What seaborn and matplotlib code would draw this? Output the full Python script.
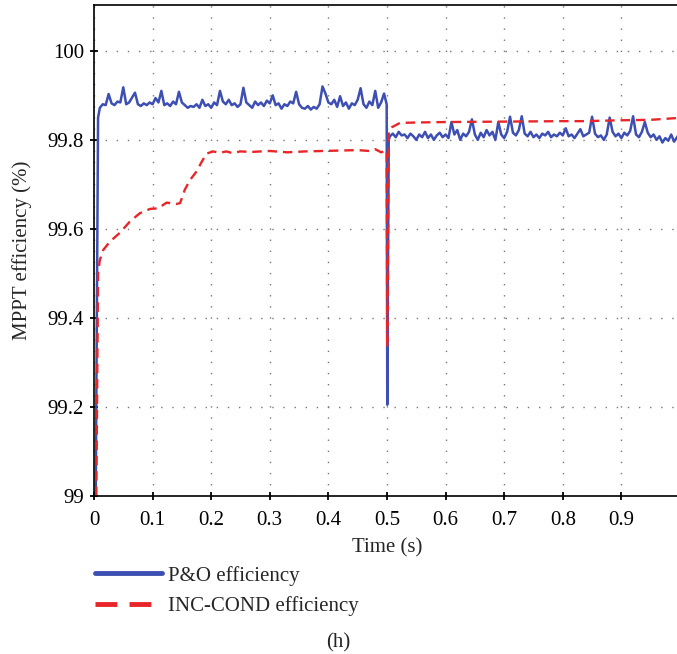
import numpy as np
import pandas as pd
import seaborn as sns
import matplotlib
matplotlib.use("Agg")
from matplotlib import pyplot as plt
from matplotlib.lines import Line2D
from matplotlib.ticker import FuncFormatter

# P&O efficiency (start, 0.005 s samples, dip at 0.5 s)
po_start_t = [0.0, 0.003, 0.007]
po_start_v = [99.0, 99.0, 99.85]
po_first_v = [
    99.872, 99.880, 99.878, 99.903, 99.882, 99.878, 99.886, 99.884, 99.918, 99.880,
    99.884, 99.895, 99.906, 99.880, 99.876, 99.882, 99.878, 99.884, 99.880, 99.894,
    99.884, 99.910, 99.878, 99.882, 99.876, 99.886, 99.880, 99.908, 99.884, 99.878,
    99.872, 99.876, 99.874, 99.880, 99.872, 99.890, 99.876, 99.880, 99.872, 99.884,
    99.878, 99.910, 99.886, 99.880, 99.890, 99.878, 99.882, 99.874, 99.880, 99.917,
    99.884, 99.878, 99.872, 99.886, 99.878, 99.884, 99.876, 99.888, 99.882, 99.900,
    99.878, 99.882, 99.870, 99.880, 99.876, 99.886, 99.882, 99.908, 99.880, 99.872,
    99.870, 99.876, 99.868, 99.874, 99.870, 99.880, 99.920, 99.904, 99.884, 99.880,
    99.890, 99.874, 99.898, 99.876, 99.884, 99.870, 99.882, 99.878, 99.890, 99.916,
    99.880, 99.872, 99.886, 99.878, 99.910, 99.872, 99.884, 99.904,
]
po_dip_t = [0.4995, 0.5005, 0.503]
po_dip_v = [99.88, 99.205, 99.80]
po_second_v = [
    99.808, 99.814, 99.806, 99.818, 99.810, 99.812, 99.804, 99.814, 99.808, 99.800,
    99.812, 99.806, 99.818, 99.804, 99.812, 99.800, 99.810, 99.816, 99.806, 99.812,
    99.804, 99.840, 99.812, 99.822, 99.800, 99.814, 99.808, 99.818, 99.846, 99.812,
    99.800, 99.816, 99.806, 99.822, 99.810, 99.818, 99.800, 99.840, 99.812, 99.804,
    99.818, 99.852, 99.816, 99.810, 99.822, 99.853, 99.814, 99.808, 99.818, 99.806,
    99.812, 99.804, 99.814, 99.810, 99.818, 99.806, 99.812, 99.808, 99.816, 99.810,
    99.826, 99.808, 99.812, 99.804, 99.814, 99.824, 99.808, 99.812, 99.816, 99.852,
    99.814, 99.806, 99.810, 99.800, 99.812, 99.850, 99.818, 99.808, 99.814, 99.804,
    99.816, 99.810, 99.820, 99.853, 99.812, 99.806, 99.818, 99.840, 99.816, 99.806,
    99.812, 99.800, 99.808, 99.794, 99.804, 99.798, 99.812, 99.796, 99.806, 99.816,
]

# INC-COND efficiency
inc_t = [0.004, 0.007, 0.010, 0.016, 0.027, 0.044, 0.061, 0.078, 0.096, 0.109,
         0.124, 0.141, 0.147, 0.155, 0.164, 0.175, 0.184, 0.192, 0.203, 0.215,
         0.226, 0.237, 0.249, 0.27, 0.30, 0.33, 0.36, 0.39, 0.42, 0.45,
         0.47, 0.48, 0.49, 0.4995, 0.5005, 0.503, 0.508, 0.522, 0.55, 0.60,
         0.70, 0.80, 0.835, 0.90, 0.95, 0.995, 1.0]
inc_v = [99.0, 99.5, 99.53, 99.553, 99.571, 99.591, 99.616, 99.635, 99.645, 99.646,
         99.659, 99.656, 99.658, 99.688, 99.71, 99.729, 99.751, 99.769, 99.774, 99.771,
         99.774, 99.77, 99.774, 99.773, 99.775, 99.772, 99.774, 99.775, 99.776, 99.777,
         99.775, 99.779, 99.772, 99.776, 99.335, 99.82, 99.828, 99.838, 99.839, 99.840,
         99.841, 99.842, 99.842, 99.844, 99.845, 99.849, 99.848]

x_ticks = [0, 0.1, 0.2, 0.3, 0.4, 0.5, 0.6, 0.7, 0.8, 0.9, 1.0]
y_ticks = [99, 99.2, 99.4, 99.6, 99.8, 100]

po_first_t = np.round(np.arange(0.010, 0.4951, 0.005), 3)
po_second_t = np.round(np.arange(0.505, 1.0001, 0.005), 3)
po = pd.DataFrame({
    "t": np.concatenate([po_start_t, po_first_t, po_dip_t, po_second_t]),
    "eff": np.concatenate([po_start_v, po_first_v, po_dip_v, po_second_v]),
})
inc = pd.DataFrame({"t": inc_t, "eff": inc_v})

sns.set_style("ticks")
plt.rcParams["font.family"] = ["Liberation Serif", "DejaVu Serif"]
fs = 15

blue = "#3d4fb3"
red = "#e8262a"

fig = plt.figure(figsize=(6.77, 6.54), dpi=100)
ax = fig.add_axes([0.1388, 0.2416, 0.8656, 0.7508])

sns.lineplot(data=po, x="t", y="eff", ax=ax, color=blue, linewidth=1.8, sort=False)
sns.lineplot(data=inc, x="t", y="eff", ax=ax, color=red, linewidth=1.7, sort=False)
ax.lines[-1].set_dashes([4, 2.5])

ax.set_xlim(0, 1.0)
ax.set_ylim(99, 100.103)
ax.set_xticks(x_ticks)
ax.set_yticks(y_ticks)
ax.xaxis.set_major_formatter(FuncFormatter(lambda v, p: "%g" % v))
ax.yaxis.set_major_formatter(FuncFormatter(lambda v, p: "%g" % v))
ax.grid(True, color="#777777", linestyle=(0, (1, 7)), linewidth=1.0)
ax.tick_params(direction="inout", length=6, width=1.3, colors="black",
               labelsize=fs, pad=4)
ax.tick_params(axis="x", pad=8)
for s in ["left", "bottom", "top", "right"]:
    ax.spines[s].set_color("black")
    ax.spines[s].set_linewidth(1.2)

ax.set_xlabel("Time (s)", fontsize=fs, labelpad=6)
ax.set_ylabel("MPPT efficiency (%)", fontsize=fs, labelpad=11)

handles = [
    Line2D([], [], color=blue, linewidth=3.5),
    Line2D([], [], color=red, linewidth=3.5, dashes=[4.5, 2.5]),
]
fig.legend(handles, ["P&O efficiency", "INC-COND efficiency"],
           loc="upper left", bbox_to_anchor=(0.1403, 0.135), frameon=False,
           borderpad=0, borderaxespad=0,
           handlelength=3.2, labelspacing=0.5, fontsize=fs, handletextpad=0.3)

fig.text(0.499, 0.002, "(h)", ha="center", va="bottom", fontsize=fs)

fig.savefig("out.png", dpi=100)
